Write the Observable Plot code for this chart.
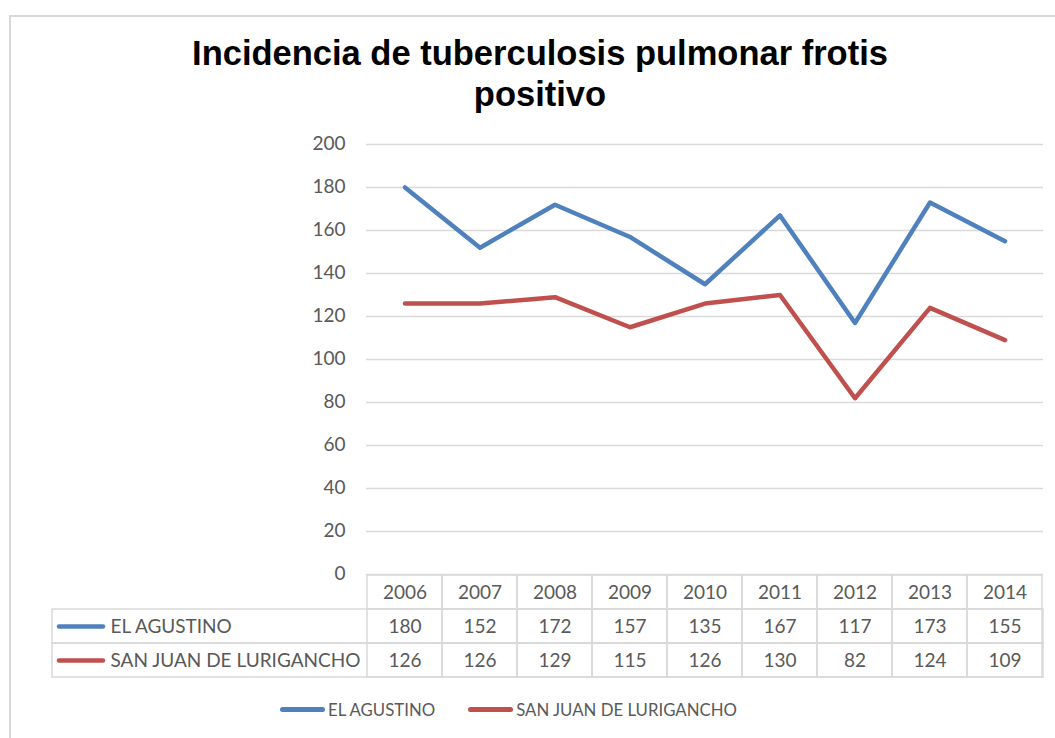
<!DOCTYPE html>
<html>
<head>
<meta charset="utf-8">
<script src="https://cdn.jsdelivr.net/npm/d3@7"></script>
<script src="https://cdn.jsdelivr.net/npm/@observablehq/plot@0.6"></script>
<style>
  html, body { margin: 0; padding: 0; background: #fff; overflow: hidden; }
  #root { position: relative; width: 1055px; height: 738px; overflow: hidden; font-family: Lato, "Open Sans", sans-serif; }
  #frame { position: absolute; left: 9px; top: 15px; width: 1070px; height: 760px; border: 2px solid #d9d9d9; box-sizing: border-box; pointer-events: none; }
  #title { position: absolute; left: 0; width: 1080px; top: 33px; text-align: center; font-family: "Liberation Sans", Arial, sans-serif; font-weight: bold; font-size: 34.5px; line-height: 41px; color: #000; }
  #main, #table { position: absolute; left: 0; }
  #main { top: 0; }
  #table { top: 573px; }
  #legend { position: absolute; top: 699px; left: 280px; display: flex; align-items: center; font-size: 16.8px; color: #595959; }
  .sw { display: inline-block; width: 45px; height: 4.5px; border-radius: 3px; margin-right: 3px; }
  .item { display: flex; align-items: center; margin-right: 33px; }
</style>
</head>
<body>
<div id="root">
  <div id="main"></div>
  <div id="table"></div>
  <div id="legend"></div>
  <div id="title">Incidencia de tuberculosis pulmonar frotis<br>positivo</div>
  <div id="frame"></div>
</div>
<script>
const years = [2006, 2007, 2008, 2009, 2010, 2011, 2012, 2013, 2014];
const seriesNames = ["EL AGUSTINO", "SAN JUAN DE LURIGANCHO"];
const elAgustino = [180, 152, 172, 157, 135, 167, 117, 173, 155];
const sanJuan = [126, 126, 129, 115, 126, 130, 82, 124, 109];
const seriesColors = ["#4f81bd", "#c0504d"];
const yTicks = [0, 20, 40, 60, 80, 100, 120, 140, 160, 180, 200];

const seriesValues = [elAgustino, sanJuan];
const data = [];
seriesNames.forEach((s, i) => years.forEach((y, j) => data.push({year: y, series: s, value: seriesValues[i][j]})));

const textColor = "#595959";
const gridColor = "#d9d9d9";

const main = Plot.plot({
  width: 1055,
  height: 600,
  marginLeft: 366,
  marginRight: 12,
  marginTop: 144,
  marginBottom: 26,
  style: {background: "transparent", fontFamily: "Lato, 'Open Sans', sans-serif", fontSize: "19px", color: textColor},
  x: {type: "band", domain: years, padding: 0, axis: null},
  y: {domain: [0, 200], ticks: yTicks},
  color: {domain: seriesNames, range: seriesColors},
  marks: [
    Plot.gridY(yTicks, {stroke: gridColor, strokeOpacity: 1, strokeWidth: 1.5}),
    Plot.axisY(yTicks, {tickSize: 0, tickPadding: 21, fill: textColor, fontSize: 19, label: null, dy: -1}),
    Plot.line(data, {x: "year", y: "value", z: "series", stroke: "series", strokeWidth: 4.5, strokeLinejoin: "round", strokeLinecap: "round"})
  ]
});
document.getElementById("main").appendChild(main);

const rows = ["hdr", ...seriesNames];
const cells = [];
rows.forEach(r => years.forEach(y => cells.push({row: r, year: y})));

const table = Plot.plot({
  width: 1055,
  height: 106,
  marginLeft: 52,
  marginRight: 12,
  marginTop: 1,
  marginBottom: 2,
  style: {background: "transparent", fontFamily: "Lato, 'Open Sans', sans-serif", fontSize: "19px", color: textColor},
  x: {type: "band", domain: years, range: [366, 1043], padding: 0, axis: null},
  y: {type: "band", domain: rows, padding: 0, axis: null},
  color: {domain: seriesNames, range: seriesColors},
  marks: [
    Plot.rect(seriesNames, {y: d => d, stroke: gridColor, strokeWidth: 1.5, fill: "none"}),
    Plot.cell(cells, {x: "year", y: "row", stroke: gridColor, strokeWidth: 1.5, fill: "none"}),
    Plot.text(years, {x: d => d, y: () => "hdr", text: d => String(d), fill: textColor, fontSize: 19}),
    Plot.text(data, {x: "year", y: "series", text: d => String(d.value), fill: textColor, fontSize: 19}),
    Plot.ruleY(seriesNames, {y: d => d, stroke: d => d, strokeWidth: 4.5, strokeLinecap: "round", insetLeft: 7, insetRight: 940}),
    Plot.text(seriesNames, {y: d => d, text: d => d, frameAnchor: "left", textAnchor: "start", dx: 58, fill: textColor, fontSize: 19})
  ]
});
document.getElementById("table").appendChild(table);

const legend = document.getElementById("legend");
seriesNames.forEach((s, i) => {
  const item = document.createElement("div");
  item.className = "item";
  const sw = document.createElement("span");
  sw.className = "sw";
  sw.style.background = seriesColors[i];
  const label = document.createElement("span");
  label.textContent = s;
  item.appendChild(sw);
  item.appendChild(label);
  legend.appendChild(item);
});
</script>
</body>
</html>
